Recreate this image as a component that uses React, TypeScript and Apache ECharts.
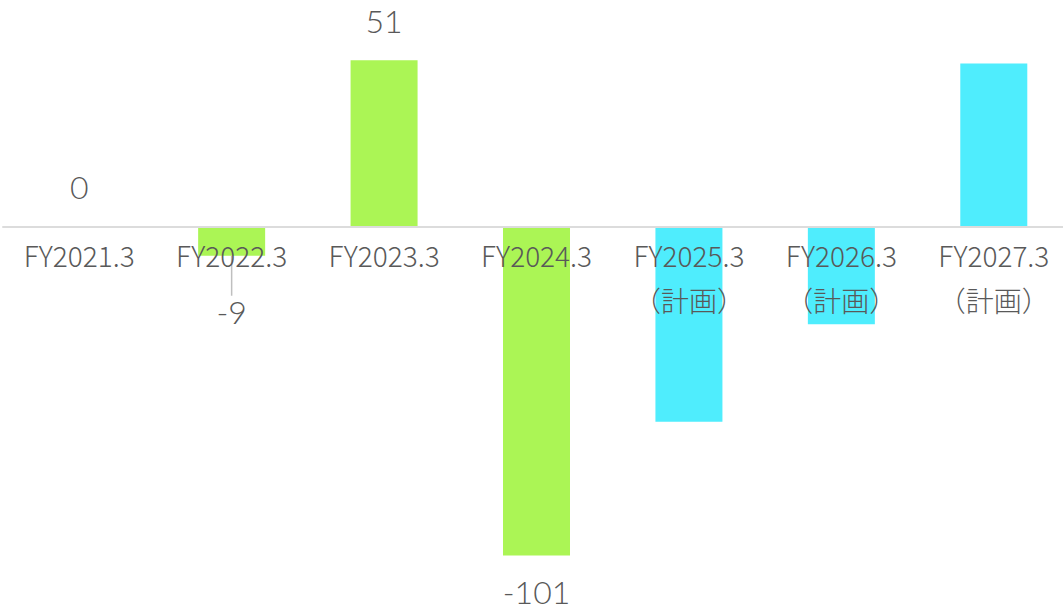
import React, { useEffect, useRef } from "react";
import * as echarts from "echarts";

const categories = [
  "FY2021.3",
  "FY2022.3",
  "FY2023.3",
  "FY2024.3",
  "FY2025.3\n（計画）",
  "FY2026.3\n（計画）",
  "FY2027.3\n（計画）",
];
const values = [0, -9, 51, -101, -60, -30, 50];
const isPlan = [false, false, false, false, true, true, true];
const showLabel = [true, true, true, true, false, false, false];
const movedLabel = [false, true, false, false, false, false, false];

const ACTUAL_COLOR = "#abf555";
const PLAN_COLOR = "#4fedfd";
const TEXT_COLOR = "#595959";
const FONT = "'Noto Sans CJK JP', 'Noto Sans', sans-serif";
const VALUE_FONT = "Lato, 'Noto Sans', sans-serif";

export default function App() {
  const ref = useRef<HTMLDivElement>(null);
  useEffect(() => {
    if (!ref.current) return;
    const chart = echarts.init(ref.current, null, { renderer: "svg" });
    const data = values.map((v, i) => ({
      value: v,
      itemStyle: { color: isPlan[i] ? PLAN_COLOR : ACTUAL_COLOR },
      label: {
        show: showLabel[i],
        position: v < 0 ? "bottom" : "top",
        distance: v < 0 ? 20 : 24,
      },
      labelLine: {
        show: movedLabel[i],
        lineStyle: { color: "#bfbfbf", width: 1.5 },
      },
    }));
    chart.setOption({
      animation: false,
      grid: {
        left: 3,
        right: -7,
        top: 31,
        height: 553.7,
        containLabel: false,
        outerBoundsMode: "none",
      },
      xAxis: {
        type: "category",
        data: categories,
        position: "bottom",
        offset: -358.2,
        axisLine: { show: true, onZero: false, lineStyle: { color: "#dcdcdc", width: 2 } },
        axisTick: { show: false },
        axisLabel: {
          color: TEXT_COLOR,
          fontSize: 28,
          fontWeight: 300,
          lineHeight: 45,
          margin: 6,
          fontFamily: FONT,
          interval: 0,
        },
        z: 10,
      },
      yAxis: {
        type: "value",
        min: -110,
        max: 60,
        show: false,
        splitLine: { show: false },
      },
      series: [
        {
          type: "bar",
          data,
          barWidth: 67,
          z: 2,
          label: {
            color: TEXT_COLOR,
            fontSize: 32,
            fontWeight: 300,
            fontFamily: VALUE_FONT,
          },
          labelLayout: (params: any) =>
            movedLabel[params.dataIndex] ? { dy: 20 } : {},
        },
      ],
    });
    return () => chart.dispose();
  }, []);
  return (
    <div
      ref={ref}
      style={{ position: "absolute", left: 0, top: 0, width: 1063, height: 610 }}
    />
  );
}
